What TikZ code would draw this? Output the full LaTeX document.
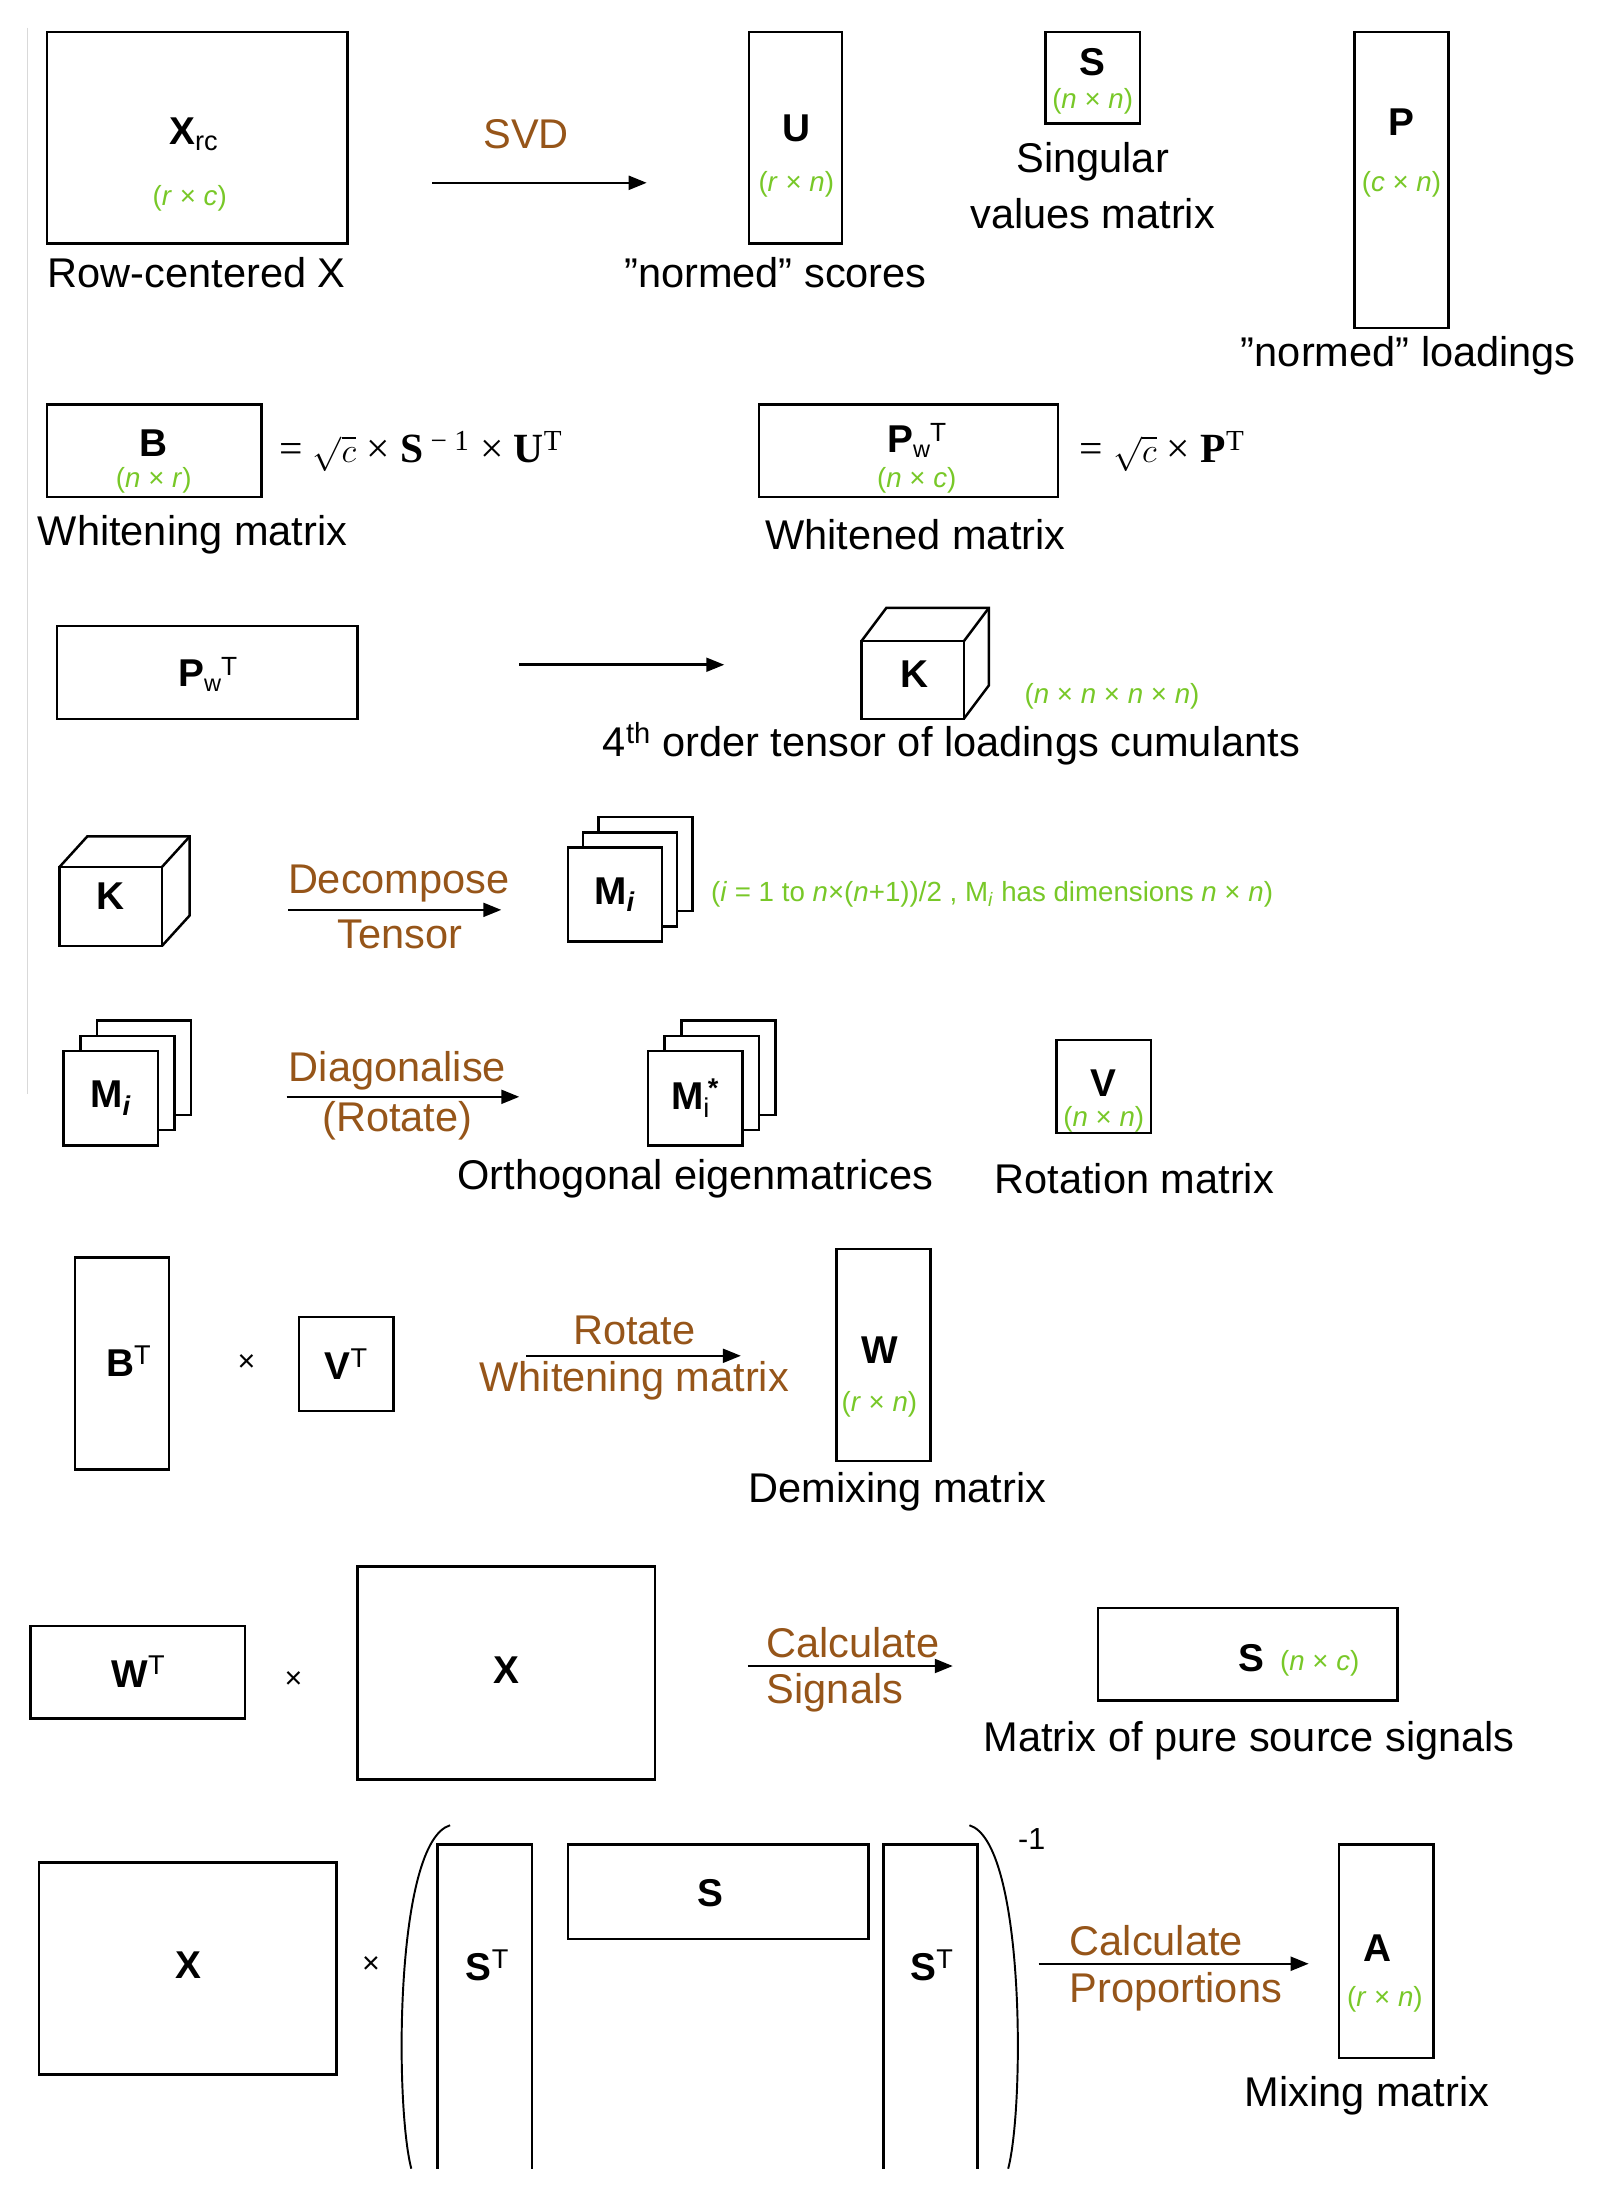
\documentclass[tikz,border=0pt]{standalone}
\usepackage{fontspec}
\setmainfont{Liberation Sans}
\newfontfamily\serifx{Liberation Serif}
\usetikzlibrary{arrows.meta}
\definecolor{grn}{RGB}{120,200,40}
\definecolor{brn}{RGB}{150,85,25}
\newcommand{\pwt}{P\raisebox{-0.25ex}{\fontsize{17}{18}\selectfont\mdseries w}\raisebox{0.55ex}{\fontsize{19}{20}\selectfont\mdseries T}}
\newcommand{\qq}{\char34}
\begin{document}
\begin{tikzpicture}[x=1pt,y=-1pt,
 box/.style={draw,line width=1.8pt,inner sep=0pt},
 lab/.style={font=\fontsize{28}{30}\selectfont\bfseries},
 capt/.style={font=\fontsize{30}{32}\selectfont},
 brw/.style={font=\fontsize{30}{32}\selectfont,text=brn},
 dim/.style={font=\fontsize{20}{22}\selectfont,text=grn},
 frm/.style={font=\fontsize{30}{32}\selectfont\serifx,anchor=west},
 arr/.style={line width=1.8pt,-{Triangle[length=13pt,width=10pt]}},
 op/.style={font=\fontsize{22}{24}\selectfont}]
\useasboundingbox (0,0) rectangle (1163,1585);
\fill[white] (0,0) rectangle (1163,1585);
\draw[gray!30,line width=1pt] (20,20) -- (20,790);
% row 1
\draw[box] (34,23) rectangle (251,176);
\node[lab] (xrc) at (140,97) {X\textsubscript{\mdseries rc}};
\node[dim] (d1) at (137,143) {(\textit{r} × \textit{c})};
\node[capt] (c1) at (142,197) {Row-centered X};
\coordinate (a1s) at (312,132); \coordinate (a1e) at (467,132);
\draw[arr] (a1s) -- (a1e);
\node[brw] (svd) at (380,97) {SVD};
\draw[box] (541,23) rectangle (608,176);
\node[lab] (u) at (575,93) {U};
\node[dim] (d2) at (575,133) {(\textit{r} × \textit{n})};
\node[capt] (c2) at (560,197) {\qq normed\qq{} scores};
\draw[box] (755,23) rectangle (823,89);
\node[lab] (s1) at (789,45) {S};
\node[dim] (d3) at (789,73) {(\textit{n} × \textit{n})};
\node[capt] (c3) at (789,117) {Singular};
\node[capt] (c3b) at (789,154) {values matrix};
\draw[box] (978,23) rectangle (1046,237);
\node[lab] (p) at (1012,88) {P};
\node[dim] (d4) at (1012,133) {(\textit{c} × \textit{n})};
\node[capt] (c4) at (1017,257) {\qq normed\qq{} loadings};
% row 2
\draw[box] (34,292) rectangle (189,359);
\node[lab] (b) at (111,320) {B};
\node[dim] (d5) at (111,347) {(\textit{n} × \textit{r})};
\node[frm] (f1) at (198,326) {= $\sqrt{c}$ × \textbf{S}\textsuperscript{ − 1} × \textbf{U}\textsuperscript{T}};
\node[capt] (c5) at (139,386) {Whitening matrix};
\draw[box] (548,292) rectangle (764,359);
\node[lab] (pw) at (662,318) {\pwt};
\node[dim] (d6) at (662,347) {(\textit{n} × \textit{c})};
\node[frm] (f2) at (776,326) {= $\sqrt{c}$ × \textbf{P}\textsuperscript{T}};
\node[capt] (c6) at (661,386) {Whitened matrix};
% row 3
\draw[box] (41,452) rectangle (258,519);
\node[lab] (pw2) at (150,487) {\pwt};
\coordinate (a2s) at (375,480); \coordinate (a2e) at (523,480);
\draw[arr] (a2s) -- (a2e);
\draw[box,fill=white] (622,463) -- (640,439) -- (714,439) -- (714,495) -- (696,519);
\draw[box] (696,463) -- (714,439);
\draw[box,fill=white] (622,463) rectangle (696,519);
\node[lab] (k1) at (660,487) {K};
\node[dim] (d7) at (803,503) {(\textit{n} × \textit{n} × \textit{n} × \textit{n})};
\node[capt] (c7) at (687,537) {4\textsuperscript{th} order tensor of loadings cumulants};
% row 4
\draw[box,fill=white] (43,626) -- (63,604) -- (137,604) -- (137,661) -- (117,683);
\draw[box] (117,626) -- (137,604);
\draw[box,fill=white] (43,626) rectangle (117,683);
\node[lab] (k2) at (80,647) {K};
\node[brw] (dec) at (288,638) {Decompose};
\coordinate (a3s) at (208,657); \coordinate (a3e) at (362,657);
\draw[arr] (a3s) -- (a3e);
\node[brw] (ten) at (289,675) {Tensor};
\draw[box,fill=white] (432,590) rectangle (500,658);
\draw[box,fill=white] (421,601) rectangle (489,669);
\draw[box,fill=white] (410,612) rectangle (478,680);
\node[lab] (m1) at (444,646) {M\textsubscript{\textit{i}}};
\node[dim,anchor=west] (d8) at (510,646) {(\textit{i} = 1 to \textit{n}×(\textit{n}+1))/2 , M\textsubscript{\textit{i}} has dimensions \textit{n} × \textit{n})};
% row 5
\draw[box,fill=white] (70,737) rectangle (138,805);
\draw[box,fill=white] (58,748) rectangle (126,816);
\draw[box,fill=white] (46,759) rectangle (114,827);
\node[lab] (m2) at (80,793) {M\textsubscript{\textit{i}}};
\node[brw] (diag) at (287,773) {Diagonalise};
\coordinate (a4s) at (207,792); \coordinate (a4e) at (375,792);
\draw[arr] (a4s) -- (a4e);
\node[brw] (rot) at (287,809) {(Rotate)};
\draw[box,fill=white] (492,737) rectangle (560,805);
\draw[box,fill=white] (480,748) rectangle (548,816);
\draw[box,fill=white] (468,759) rectangle (536,827);
\node[lab] (m3) at (502,793) {M\rlap{\textsubscript{\mdseries i}}\textsuperscript{\,*}};
\node[capt] (c8) at (502,851) {Orthogonal eigenmatrices};
\draw[box] (763,751) rectangle (831,818);
\node[lab] (v) at (797,782) {V};
\node[dim] (d9) at (797,808) {(\textit{n} × \textit{n})};
\node[capt] (c9) at (819,851) {Rotation matrix};
% row 6
\draw[box] (54,908) rectangle (122,1061);
\node[lab] (bt) at (93,983) {B\textsuperscript{\mdseries T}};
\node[op] (x1) at (178,984) {×};
\draw[box] (216,951) rectangle (284,1019);
\node[lab] (vt) at (250,985) {V\textsuperscript{\mdseries T}};
\node[brw] (rt) at (458,961) {Rotate};
\coordinate (a5s) at (380,979); \coordinate (a5e) at (535,979);
\draw[arr] (a5s) -- (a5e);
\node[brw] (wm) at (458,997) {Whitening matrix};
\draw[box] (604,902) rectangle (672,1055);
\node[lab] (w) at (635,975) {W};
\node[dim] (d10) at (635,1014) {(\textit{r} × \textit{n})};
\node[capt] (c10) at (648,1077) {Demixing matrix};
% row 7
\draw[box] (22,1174) rectangle (177,1241);
\node[lab] (wt) at (100,1207) {W\textsuperscript{\mdseries T}};
\node[op] (x2) at (212,1213) {×};
\draw[box] (258,1131) rectangle (473,1285);
\node[lab] (x3) at (366,1206) {X};
\node[brw] (cal1) at (616,1186) {Calculate};
\coordinate (a6s) at (540,1203); \coordinate (a6e) at (688,1203);
\draw[arr] (a6s) -- (a6e);
\node[brw] (sig) at (603,1222) {Signals};
\draw[box] (793,1161) rectangle (1009,1228);
\node[lab] (s2) at (904,1197) {S};
\node[dim] (d11) at (953,1201) {(\textit{n} × \textit{c})};
\node[capt] (c11) at (902,1257) {Matrix of pure source signals};
% row 8
\draw[box] (28,1345) rectangle (243,1498);
\node[lab] (x4) at (136,1419) {X};
\node[op] (x5) at (268,1419) {×};
\draw[line width=1.4pt] (325,1318) .. controls (285,1330) and (285,1520) .. (297,1566);
\draw[box] (316,1566) -- (316,1332) -- (384,1332) -- (384,1566);
\node[lab] (st1) at (352,1419) {S\textsuperscript{\mdseries T}};
\draw[box] (410,1332) rectangle (627,1400);
\node[lab] (s3) at (513,1367) {S};
\draw[box] (638,1566) -- (638,1332) -- (706,1332) -- (706,1566);
\node[lab] (st2) at (673,1419) {S\textsuperscript{\mdseries T}};
\draw[line width=1.4pt] (700,1318) .. controls (740,1330) and (740,1520) .. (728,1566);
\node[font=\fontsize{22}{24}\selectfont] (inv) at (745,1328) {-1};
\node[brw] (cal2) at (835,1401) {Calculate};
\coordinate (a7s) at (750,1418); \coordinate (a7e) at (945,1418);
\draw[arr] (a7s) -- (a7e);
\node[brw] (prop) at (849,1438) {Proportions};
\draw[box] (967,1332) rectangle (1035,1486);
\node[lab] (a) at (995,1407) {A};
\node[dim] (d12) at (1000,1444) {(\textit{r} × \textit{n})};
\node[capt] (c12) at (987,1513) {Mixing matrix};
\end{tikzpicture}
\end{document}
